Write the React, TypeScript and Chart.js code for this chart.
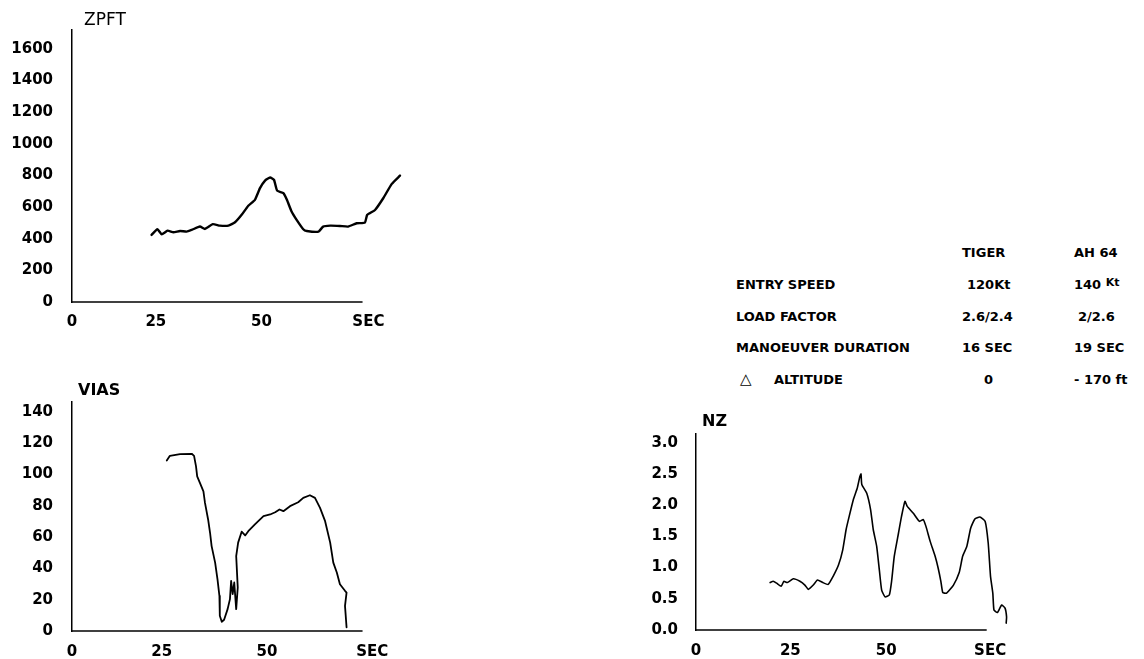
import React, { useEffect, useRef } from "react";
import { Chart, registerables } from "chart.js";

Chart.register(...registerables);

// ---------- data (seconds / value) ----------
const ZPFT_T = [20.4, 21.9, 23.0, 24.5, 26.0, 27.7, 29.4, 30.7, 32.8, 34.1, 36.1, 37.9, 40.1, 41.8, 43.5, 45.2, 46.9, 48.2, 49.5, 50.8, 51.8, 52.6, 54.2, 55.1, 56.3, 57.6, 59.3, 60.2, 63.2, 64.4, 66.2, 68.7, 70.8, 73.0, 75.1, 75.7, 77.7, 79.8, 82.0, 84.1];
const ZPFT_V = [424, 460, 428, 451, 441, 449, 445, 456, 477, 462, 492, 483, 483, 504, 551, 609, 646, 720, 768, 787, 772, 704, 688, 646, 572, 519, 460, 449, 445, 477, 483, 481, 477, 498, 502, 551, 582, 656, 747, 799];

const VIAS_T = [24.3, 25.1, 27.7, 30.7, 31.3, 31.8, 32.1, 32.8, 33.7, 34.1, 34.9, 35.4, 35.8, 36.7, 37.3, 37.8, 37.9, 38.4, 39.0, 39.9, 40.5, 40.8, 41.2, 41.6, 42.1, 42.5, 42.1, 42.6, 43.5, 44.4, 45.2, 46.9, 49.1, 50.8, 52.1, 53.2, 54.2, 55.9, 58.0, 59.3, 61.0, 62.3, 63.6, 64.9, 66.2, 67.0, 67.9, 68.7, 70.0, 70.4, 70.0, 70.4];
const VIAS_V = [109.0, 112.0, 113.1, 113.3, 112.0, 105.2, 98.9, 94.7, 89.3, 81.9, 71.3, 62.8, 54.3, 43.7, 33.1, 22.5, 9.8, 5.9, 7.2, 14.0, 20.4, 32.0, 23.6, 31.0, 14.0, 27.8, 47.9, 56.5, 63.5, 61.1, 63.8, 68.1, 73.4, 74.5, 75.9, 77.7, 76.6, 79.8, 82.3, 85.1, 86.8, 85.1, 78.7, 70.2, 56.5, 43.7, 37.4, 29.9, 25.7, 24.6, 16.1, 2.4];

const NZ_T = [19.4, 20.2, 21.1, 22.3, 23.0, 23.9, 25.5, 27.2, 28.5, 29.4, 30.7, 31.8, 33.2, 34.6, 35.9, 37.3, 38.4, 39.3, 40.1, 41.2, 42.2, 42.9, 43.2, 43.4, 44.7, 45.7, 46.4, 47.3, 48.0, 48.6, 49.5, 50.6, 51.2, 51.9, 53.0, 53.8, 54.7, 55.3, 56.9, 58.5, 59.5, 60.2, 61.3, 62.6, 63.4, 64.1, 64.6, 65.6, 67.4, 68.9, 69.8, 70.9, 71.9, 73.0, 74.3, 75.7, 76.5, 77.1, 77.7, 78.0, 78.9, 80.0, 80.9, 81.3, 81.2];
const NZ_V = [0.76, 0.78, 0.75, 0.70, 0.78, 0.76, 0.82, 0.78, 0.72, 0.65, 0.72, 0.80, 0.76, 0.73, 0.86, 1.04, 1.28, 1.61, 1.82, 2.09, 2.27, 2.46, 2.50, 2.33, 2.19, 1.93, 1.61, 1.34, 0.96, 0.64, 0.53, 0.56, 0.78, 1.18, 1.55, 1.82, 2.06, 1.98, 1.87, 1.74, 1.77, 1.66, 1.42, 1.18, 0.99, 0.78, 0.60, 0.59, 0.72, 0.92, 1.18, 1.34, 1.63, 1.78, 1.81, 1.74, 1.39, 0.86, 0.59, 0.32, 0.28, 0.40, 0.35, 0.21, 0.11];

// ---------- ticks (positions as placed on the original hand-labelled axes) ----------
const X_TICK_LABELS = ["0", "25", "50", "SEC"];
const ZPFT_X_TICKS = [0, 21.5, 48.6, 76.0];
const VIAS_X_TICKS = [0, 23.0, 50.0, 77.0];
const NZ_X_TICKS = [0, 24.7, 49.8, 77.0];
const ZPFT_TICKS = [0, 200, 400, 600, 800, 1000, 1200, 1400, 1600];
const ZPFT_LABELS = ["0", "200", "400", "600", "800", "1000", "1200", "1400", "1600"];
const VIAS_TICKS = [0, 20, 40, 60, 80, 100, 120, 140];
const VIAS_LABELS = ["0", "20", "40", "60", "80", "100", "120", "140"];
const NZ_TICKS = [0, 0.5, 1.0, 1.5, 2.0, 2.5, 3.0];
const NZ_LABELS = ["0.0", "0.5", "1.0", "1.5", "2.0", "2.5", "3.0"];

// ---------- table ----------
const TABLE_HEAD = ["TIGER", "AH 64"];
const TABLE_LABELS = ["ENTRY SPEED", "LOAD FACTOR", "MANOEUVER DURATION", "ALTITUDE"];
const TABLE_TIGER = ["120Kt", "2.6/2.4", "16 SEC", "0"];
const TABLE_AH64 = ["140 Kt", "2/2.6", "19 SEC", "- 170 ft"];

const TICK_FONT = { family: "'DejaVu Sans', sans-serif", size: 15, weight: "bold" as const };

type PanelCfg = {
  left: number; top: number; width: number; height: number;
  area: { left: number; top: number; bottom: number; right: number };
  title: string; titleDx: number; titleDy: number; titleFont: string;
  t: number[]; v: number[]; xTicks: number[];
  yTicks: number[]; yLabels: string[]; yMax: number; xMax: number; axisEnd: number;
  lineWidth: number; tension: number; xPad: number; yPad: number;
};

function Panel({ cfg }: { cfg: PanelCfg }) {
  const ref = useRef<HTMLCanvasElement | null>(null);
  useEffect(() => {
    if (!ref.current) return;
    const c = cfg;
    const decor = {
      id: "decor",
      afterDraw(chart: any) {
        const { ctx, chartArea } = chart;
        const xs = chart.scales.x;
        const ys = chart.scales.y;
        ctx.save();
        ctx.strokeStyle = "#000";
        ctx.lineWidth = 1.5;
        const y0 = ys.getPixelForValue(0);
        ctx.beginPath();
        ctx.moveTo(xs.getPixelForValue(0), y0);
        ctx.lineTo(xs.getPixelForValue(c.axisEnd), y0);
        ctx.stroke();
        ctx.fillStyle = "#000";
        ctx.font = c.titleFont;
        ctx.textBaseline = "alphabetic";
        ctx.fillText(c.title, chartArea.left + c.titleDx, chartArea.top - c.titleDy);
        ctx.restore();
      },
    };
    const chart = new Chart(ref.current, {
      type: "scatter",
      data: {
        datasets: [
          {
            data: c.t.map((x, i) => ({ x, y: c.v[i] })),
            showLine: true,
            borderColor: "#000",
            borderWidth: c.lineWidth,
            borderJoinStyle: "round",
            borderCapStyle: "round",
            pointRadius: 0,
            tension: c.tension,
            clip: false,
          } as any,
        ],
      },
      options: {
        animation: false,
        responsive: false,
        events: [],
        layout: { padding: { top: c.area.top, right: c.width - c.area.right, left: 0, bottom: 0 } },
        plugins: { legend: { display: false }, tooltip: { enabled: false }, title: { display: false } },
        scales: {
          x: {
            type: "linear",
            min: 0,
            max: c.xMax,
            grid: { display: false, drawTicks: false },
            border: { display: false },
            ticks: {
              color: "#000",
              font: TICK_FONT,
              padding: c.xPad,
              autoSkip: false,
              maxRotation: 0,
              callback: (_v: any, i: number) => X_TICK_LABELS[i],
            },
            afterBuildTicks: (s: any) => {
              s.ticks = c.xTicks.map((value) => ({ value }));
            },
            afterFit: (s: any) => {
              s.height = c.height - c.area.bottom;
            },
          },
          y: {
            type: "linear",
            min: 0,
            max: c.yMax,
            grid: { display: false, drawTicks: false },
            border: { display: true, color: "#000", width: 1.5 },
            ticks: {
              color: "#000",
              font: TICK_FONT,
              padding: c.yPad,
              autoSkip: false,
              callback: (_v: any, i: number) => c.yLabels[i],
            },
            afterBuildTicks: (s: any) => {
              s.ticks = c.yTicks.map((value) => ({ value }));
            },
            afterFit: (s: any) => {
              s.width = c.area.left;
            },
          },
        },
      } as any,
      plugins: [decor],
    });
    return () => chart.destroy();
  }, [cfg]);
  return (
    <canvas
      ref={ref}
      width={cfg.width}
      height={cfg.height}
      style={{ position: "absolute", left: cfg.left, top: cfg.top, width: cfg.width, height: cfg.height }}
    />
  );
}

const PANELS: PanelCfg[] = [
  {
    left: 0, top: 0, width: 420, height: 330,
    area: { left: 72, top: 30, bottom: 302, right: 403.5 },
    title: "ZPFT", titleDx: 12, titleDy: 5, titleFont: "17px 'DejaVu Sans', sans-serif",
    t: ZPFT_T, v: ZPFT_V, xTicks: ZPFT_X_TICKS, yTicks: ZPFT_TICKS, yLabels: ZPFT_LABELS, yMax: 1720, xMax: 85, axisEnd: 74.5,
    lineWidth: 2.4, tension: 0.15, xPad: 11, yPad: 19,
  },
  {
    left: 0, top: 330, width: 420, height: 329,
    area: { left: 72, top: 72, bottom: 302, right: 403.5 },
    title: "VIAS", titleDx: 6, titleDy: 7, titleFont: "bold 16px 'DejaVu Sans', sans-serif",
    t: VIAS_T, v: VIAS_V, xTicks: VIAS_X_TICKS, yTicks: VIAS_TICKS, yLabels: VIAS_LABELS, yMax: 146.4, xMax: 85, axisEnd: 74.5,
    lineWidth: 1.8, tension: 0, xPad: 12, yPad: 19,
  },
  {
    left: 600, top: 400, width: 440, height: 259,
    area: { left: 96, top: 34, bottom: 230, right: 413.06 },
    title: "NZ", titleDx: 6, titleDy: 8, titleFont: "bold 16px 'DejaVu Sans', sans-serif",
    t: NZ_T, v: NZ_V, xTicks: NZ_X_TICKS, yTicks: NZ_TICKS, yLabels: NZ_LABELS, yMax: 3.14, xMax: 83, axisEnd: 76.1,
    lineWidth: 1.6, tension: 0.15, xPad: 12, yPad: 18,
  },
];

const tableFont: React.CSSProperties = {
  position: "absolute",
  fontFamily: "'DejaVu Sans', sans-serif",
  fontWeight: "bold",
  fontSize: 13,
  lineHeight: "16px",
  height: 16,
  whiteSpace: "nowrap",
  color: "#000",
};

const ROW_Y = [285, 317, 348, 380];
const COL_LABEL = 736;
const COL_TIGER = 962;
const COL_AH = 1074;

export default function App() {
  return (
    <div style={{ position: "absolute", left: 0, top: 0, width: 1144, height: 659, background: "#fff", overflow: "hidden" }}>
      {PANELS.map((p, i) => (
        <Panel key={i} cfg={p} />
      ))}
      <div style={{ ...tableFont, left: COL_TIGER, top: 253 - 8 }}>{TABLE_HEAD[0]}</div>
      <div style={{ ...tableFont, left: COL_AH, top: 253 - 8 }}>{TABLE_HEAD[1]}</div>
      {TABLE_LABELS.map((lab, i) => (
        <div key={"l" + i} style={{ ...tableFont, left: i === 3 ? COL_LABEL + 38 : COL_LABEL, top: ROW_Y[i] - 8 }}>{lab}</div>
      ))}
      <div style={{ ...tableFont, left: COL_LABEL + 4, top: ROW_Y[3] - 9, fontWeight: "normal", fontSize: 15 }}>△</div>
      {TABLE_TIGER.map((s, i) => (
        <div key={"t" + i} style={{ ...tableFont, left: i === 3 ? COL_TIGER + 22 : i === 0 ? COL_TIGER + 5 : COL_TIGER, top: ROW_Y[i] - 8 }}>{s}</div>
      ))}
      {TABLE_AH64.map((s, i) => (
        <div key={"a" + i} style={{ ...tableFont, left: i === 1 ? COL_AH + 4 : COL_AH, top: ROW_Y[i] - 8 }}>
          {i === 0 ? (
            <>
              {s.split(" ")[0]} <span style={{ fontSize: 11, position: "relative", top: -3 }}>{s.split(" ")[1]}</span>
            </>
          ) : (
            s
          )}
        </div>
      ))}
    </div>
  );
}
